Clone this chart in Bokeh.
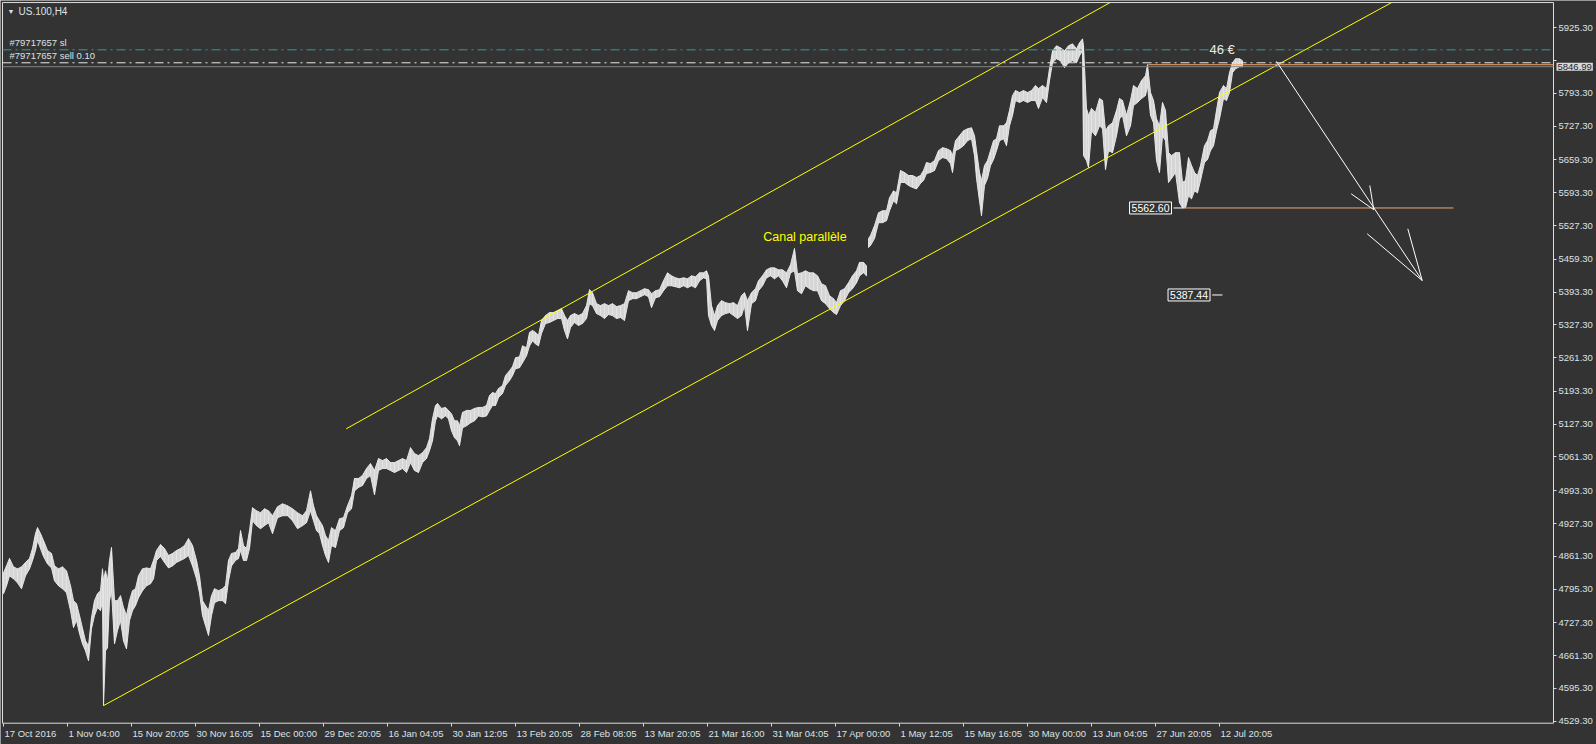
import math
from bokeh.plotting import figure
from bokeh.models import (Range1d, FixedTicker, PrintfTickFormatter, Label,
                          LabelSet, ColumnDataSource)
from bokeh.core.properties import value
from bokeh.embed import file_html
from bokeh.resources import INLINE

NAN = float("nan")

# ---------------- data (bar position, H4 highs / lows) -------------
BAR_X = [3,6,9,13,17,21,25,29,32,35,37,40,43,47,51,54,58,62,66,70,73,76,79,82,85,88,91,94,97,100,
         102,103,105,107,109,111,114,117,120,123,126,129,132,135,138,142,146,150,153,156,
         160,164,168,172,176,180,184,188,192,196,199,202,205,208,211,214,218,222,225,228,
         231,235,238,240,243,246,249,252,256,260,264,268,272,277,282,287,292,297,302,306,
         310,313,316,319,322,325,328,
         331,335,339,343,347,351,354,358,362,366,370,374,378,382,386,390,394,398,402,406,
         410,414,418,422,426,429,432,435,437,441,445,448,451,454,457,459,462,466,470,474,
         478,482,486,489,492,495,498,502,505,509,512,515,519,522,526,529,532,535,538,541,
         545,549,553,557,561,564,567,570,574,578,582,586,589,592,596,600,604,608,612,616,
         620,624,628,632,636,640,644,648,
         651,655,659,663,667,671,675,679,683,687,691,695,699,703,706,708,711,714,717,721,
         725,729,733,737,741,744,747,751,755,758,762,766,770,774,778,782,786,790,794,797,
         801,805,809,813,817,821,825,829,833,836,840,844,848,852,856,859,863,866,
         NAN,
         868,870,874,878,882,886,889,893,896,900,904,908,912,916,920,923,926,930,934,938,
         942,946,950,952,955,959,963,967,971,974,976,979,981,984,987,990,993,996,999,1003,
         1006,1009,1012,1015,1019,1023,1027,1031,1035,1038,1042,1046,1049,1052,1056,1060,1064,1068,1072,1076,
         1079,1082,1083,1086,1088,1091,1095,1099,1102,1105,1108,1112,1116,1119,1122,1126,1130,1133,1137,1141,
         1145,1147,1150,1153,1156,1159,1162,1165,1168,1171,1175,1179,1182,1185,1188,1191,1194,1197,1200,1204,
         1207,1210,1213,1216,1219,1223,1226,1229,1232,1235,1239,1242]

BAR_HIGH = [4828,4842,4857,4840,4836,4840,4849,4857,4877,4907,
            4919,4907,4893,4873,4867,4842,4836,4840,4832,4802,
            4772,4766,4742,4716,4691,4681,4738,4772,4786,4792,
            4836,4812,4832,4812,4853,4879,4772,4772,4782,4758,
            4742,4772,4792,4796,4822,4836,4838,4836,4853,4873,
            4885,4877,4863,4867,4873,4877,4883,4897,4883,4853,
            4822,4772,4762,4752,4782,4796,4792,4796,4802,4853,
            4867,4869,4877,4913,4883,4877,4913,4959,4953,4949,
            4957,4953,4943,4961,4967,4963,4957,4949,4943,4953,
            4993,4963,4943,4933,4923,4903,4893,
            4919,4913,4937,4939,4963,4983,5018,5018,5024,5038,
            5048,5034,5058,5054,5058,5050,5050,5054,5058,5054,
            5080,5068,5064,5070,5080,5098,5138,5165,5169,5159,
            5161,5155,5148,5134,5134,5124,5151,5155,5155,5159,
            5161,5161,5165,5185,5191,5189,5199,5205,5225,5235,
            5243,5261,5263,5285,5281,5312,5316,5312,5306,5336,
            5346,5352,5352,5356,5360,5346,5336,5346,5350,5346,
            5350,5366,5398,5392,5370,5366,5370,5366,5370,5364,
            5366,5370,5396,5392,5392,5396,5400,5398,
            5390,5396,5398,5416,5432,5426,5422,5420,5422,5420,
            5426,5424,5432,5432,5436,5426,5366,5346,5366,5376,
            5372,5370,5372,5366,5386,5392,5376,5392,5400,5416,
            5426,5438,5442,5442,5438,5438,5432,5448,5481,5430,
            5432,5436,5432,5432,5426,5410,5406,5386,5380,5372,
            5396,5400,5412,5426,5436,5453,5453,5446,
            NAN,
            5501,5507,5527,5553,5557,5557,5583,5597,5593,5638,
            5634,5628,5628,5624,5628,5638,5654,5652,5658,5678,
            5684,5682,5678,5668,5698,5708,5718,5722,5724,5708,
            5678,5634,5618,5648,5658,5678,5698,5702,5728,5728,
            5734,5759,5789,5799,5795,5799,5795,5799,5809,5803,
            5809,5803,5843,5879,5889,5885,5879,5889,5893,5883,
            5895,5903,5889,5763,5749,5763,5755,5783,5779,5718,
            5728,5734,5759,5783,5779,5749,5779,5809,5803,5819,
            5829,5851,5795,5779,5742,5728,5775,5759,5674,5668,
            5674,5674,5614,5618,5664,5648,5634,5628,5648,5688,
            5698,5718,5722,5759,5795,5809,5803,5835,5855,5863,
            5863,5859]

BAR_LOW = [4786,4802,4822,4816,4808,4796,4822,4836,4853,4873,
           4893,4877,4861,4846,4838,4812,4802,4796,4788,4752,
           4718,4732,4706,4685,4671,4651,4716,4742,4758,4752,
           4772,4561,4671,4677,4772,4792,4685,4712,4732,4691,
           4675,4732,4752,4762,4778,4792,4802,4806,4816,4853,
           4861,4849,4838,4842,4849,4853,4857,4863,4842,4816,
           4788,4742,4722,4702,4742,4768,4772,4772,4766,4812,
           4842,4853,4857,4873,4853,4853,4877,4933,4923,4917,
           4923,4929,4907,4939,4943,4943,4933,4917,4923,4929,
           4953,4933,4913,4907,4883,4863,4849,
           4883,4879,4913,4919,4949,4957,4993,5000,5004,5018,
           5024,4985,5034,5038,5038,5034,5030,5034,5038,5030,
           5050,5034,5030,5050,5058,5074,5094,5134,5144,5138,
           5144,5138,5114,5100,5094,5084,5120,5124,5130,5134,
           5144,5142,5144,5155,5165,5165,5181,5189,5205,5215,
           5225,5239,5241,5251,5265,5285,5295,5289,5285,5310,
           5330,5332,5336,5340,5340,5316,5299,5322,5332,5326,
           5330,5340,5370,5366,5350,5346,5340,5348,5346,5340,
           5342,5336,5376,5380,5380,5384,5388,5384,
           5362,5382,5384,5396,5406,5406,5404,5402,5406,5402,
           5406,5402,5416,5422,5420,5346,5326,5316,5336,5346,
           5350,5352,5346,5340,5346,5366,5316,5370,5376,5396,
           5406,5422,5426,5420,5426,5416,5402,5432,5436,5396,
           5390,5406,5400,5396,5396,5376,5370,5360,5352,5348,
           5366,5376,5392,5400,5412,5426,5432,5426,
           NAN,
           5483,5487,5501,5533,5533,5537,5557,5577,5571,5614,
           5614,5608,5604,5601,5612,5618,5632,5634,5638,5658,
           5664,5662,5652,5634,5678,5682,5688,5698,5702,5668,
           5622,5577,5547,5608,5622,5648,5660,5678,5698,5702,
           5688,5728,5749,5779,5775,5779,5775,5779,5779,5763,
           5785,5775,5819,5855,5863,5859,5845,5855,5859,5855,
           5869,5879,5668,5658,5644,5718,5708,5728,5722,5640,
           5678,5674,5708,5742,5749,5708,5728,5769,5775,5783,
           5789,5809,5749,5734,5658,5634,5708,5698,5614,5622,
           5634,5573,5563,5563,5587,5581,5597,5593,5618,5654,
           5660,5678,5688,5718,5742,5783,5779,5795,5835,5843,
           5847,5847]

Y_TICKS = [5925.3, 5859.3, 5793.3, 5727.3, 5659.3, 5593.3, 5527.3, 5459.3, 5393.3,
           5327.3, 5261.3, 5193.3, 5127.3, 5061.3, 4993.3, 4927.3, 4861.3, 4795.3,
           4727.3, 4661.3, 4595.3, 4529.3]
HIDDEN_Y_TICK = 5859.3   # its label sits under the current-price tag
X_TICK_BARS = [3, 67, 131, 195, 259, 323, 387, 451, 515, 579, 643, 707, 771, 835,
               899, 963, 1027, 1091, 1155, 1219]
X_TICK_LABELS = ["17 Oct 2016", "1 Nov 04:00", "15 Nov 20:05", "30 Nov 16:05",
                 "15 Dec 00:00", "29 Dec 20:05", "16 Jan 04:05", "30 Jan 12:05",
                 "13 Feb 20:05", "28 Feb 08:05", "13 Mar 20:05", "21 Mar 16:00",
                 "31 Mar 04:05", "17 Apr 00:00", "1 May 12:05", "15 May 16:05",
                 "30 May 00:00", "13 Jun 04:05", "27 Jun 20:05", "12 Jul 20:05"]

# visible window (whole canvas) and the chart box inside it
X_START, X_END = 0, 1596
Y_START, Y_END = 4482.4, 5980.3
BOX_LEFT, BOX_RIGHT = 2, 1553
BOX_BOTTOM, BOX_TOP = 4525.3, 5976.2

SYMBOL = "US.100,H4"
SL_PRICE = 5881.0
SELL_PRICE = 5854.9
BID_PRICE = 5846.99
SL_LABEL = "#79717657 sl"
SELL_LABEL = "#79717657 sell 0.10"
PROFIT_TEXT = "46 €"
PROFIT_X = 1209
CHANNEL_TEXT = "Canal parallèle"
CHANNEL_TEXT_X, CHANNEL_TEXT_P = 762.7, 5505.0

LOWER_CH_X = [103.3, 1300.0]
LOWER_CH_P = [4561.0, 5876.0]
UPPER_CH_X = [345.7, 1066.7]
UPPER_CH_P = [5118.0, 5928.0]

RES_X = [1147.7, 1553.0]
RES_P = 5851.0
SUP_X = [1183.0, 1453.0]
SUP_P = 5562.60
SUP_TAG_X = 1171.0
TARGET_P = 5387.44
TARGET_TAG_X = 1209.5
TARGET_LINE_X = [1211.7, 1222.0]

ARROW_X = [1276.0, 1421.7]
ARROW_P = [5857.5, 5416.6]
HEAD_TIP_X = [1373.3, 1373.3, 1421.7, 1421.7]
HEAD_TIP_P = [5559.0, 5559.0, 5416.6, 5416.6]
HEAD_WING_X = [1350.7, 1369.3, 1366.7, 1407.3]
HEAD_WING_P = [5591.1, 5607.8, 5510.6, 5520.7]

# ---------------- style ----------------
BG = "#333333"
FRAME = "#dcdcdc"
TXT = "#dde1e6"
BAR_COLOR = "#e4e4e4"
YELLOW = "#ffff00"
ORANGE = "#f0a46c"
TEAL = "#2a9e9e"
FONT = "Liberation Sans"

p = figure(width=1596, height=744, output_backend="svg", toolbar_location=None,
           x_range=Range1d(X_START, X_END), y_range=Range1d(Y_START, Y_END),
           y_axis_location="right", x_axis_location="below",
           background_fill_color=BG, border_fill_color=BG,
           min_border_left=0, min_border_top=0, min_border_right=0, min_border_bottom=0)
p.grid.visible = False
p.outline_line_color = None

# right price axis, pinned to the chart box edge
ya = p.yaxis[0]
ya.fixed_location = BOX_RIGHT
ya.ticker = FixedTicker(ticks=Y_TICKS)
ya.formatter = PrintfTickFormatter(format="%.2f")
ya.major_label_overrides = {HIDDEN_Y_TICK: ""}
ya.major_tick_out = 3
ya.major_tick_in = 0
ya.minor_tick_line_color = None
ya.axis_line_color = None
ya.major_tick_line_color = FRAME
ya.major_label_text_color = TXT
ya.major_label_text_font = FONT
ya.major_label_text_font_size = "9.5px"
ya.major_label_standoff = 2

# bottom time axis, pinned to the chart box bottom
xa = p.xaxis[0]
xa.fixed_location = BOX_BOTTOM
xa.ticker = FixedTicker(ticks=X_TICK_BARS)
xa.major_tick_out = 3
xa.major_tick_in = 0
xa.minor_tick_line_color = None
xa.axis_line_color = None
xa.major_tick_line_color = FRAME
xa.major_label_text_color = None
xa.major_label_text_font_size = "9.5px"

# chart box
p.segment(x0=[BOX_LEFT, BOX_LEFT, BOX_LEFT, BOX_RIGHT],
          y0=[BOX_BOTTOM, BOX_TOP, BOX_BOTTOM, BOX_BOTTOM],
          x1=[BOX_RIGHT, BOX_RIGHT, BOX_LEFT, BOX_RIGHT],
          y1=[BOX_BOTTOM, BOX_TOP, BOX_TOP, BOX_TOP],
          line_color=FRAME, line_width=1)

# time labels, left-aligned after their tick as in MT4
xl_src = ColumnDataSource(dict(x=X_TICK_BARS, y=[BOX_BOTTOM] * len(X_TICK_BARS), t=X_TICK_LABELS))
p.add_layout(LabelSet(x="x", y="y", text="t", source=xl_src, x_offset=1, y_offset=-5,
                      text_align="left", text_baseline="top", text_color=TXT,
                      text_font=value(FONT), text_font_size="9.5px"))

# ---------------- price bars ----------------
runs = []
cur = ([], [], [])
for bx, bh, bl in zip(BAR_X, BAR_HIGH, BAR_LOW):
    if isinstance(bx, float) and math.isnan(bx):
        runs.append(cur)
        cur = ([], [], [])
    else:
        cur[0].append(bx); cur[1].append(bh); cur[2].append(bl)
runs.append(cur)
for xs, hs, ls in runs:
    src = ColumnDataSource(dict(x=xs, h=hs, l=ls))
    p.varea(x="x", y1="l", y2="h", source=src, fill_color=BAR_COLOR, fill_alpha=0.92)
    p.line(x="x", y="h", source=src, line_color=BAR_COLOR, line_width=1)
    p.line(x="x", y="l", source=src, line_color=BAR_COLOR, line_width=1)
    p.segment(x0="x", y0="l", x1="x", y1="h", source=src, line_color=BAR_COLOR, line_width=1)

# ---------------- channel (rays, cut at the chart box top) ----------------
for xs, ps in ((LOWER_CH_X, LOWER_CH_P), (UPPER_CH_X, UPPER_CH_P)):
    slope = (ps[1] - ps[0]) / (xs[1] - xs[0])
    x_top = xs[0] + (BOX_TOP - ps[0]) / slope
    p.segment(x0=[xs[0]], y0=[ps[0]], x1=[x_top], y1=[BOX_TOP],
              line_color=YELLOW, line_width=1)

# ---------------- order / price lines ----------------
p.segment(x0=[BOX_LEFT], y0=[BID_PRICE], x1=[BOX_RIGHT], y1=[BID_PRICE],
          line_color="#858585", line_width=1)
p.segment(x0=[BOX_LEFT], y0=[SL_PRICE], x1=[BOX_RIGHT], y1=[SL_PRICE],
          line_color=TEAL, line_width=1, line_dash="9 4 2 4")
p.segment(x0=[BOX_LEFT], y0=[SELL_PRICE], x1=[BOX_RIGHT], y1=[SELL_PRICE],
          line_color="#e8e8e8", line_width=1, line_dash="9 4 2 4")

# ---------------- horizontal levels ----------------
p.segment(x0=[RES_X[0]], y0=[RES_P], x1=[RES_X[1]], y1=[RES_P], line_color=ORANGE, line_width=1)
p.segment(x0=[SUP_X[0]], y0=[SUP_P], x1=[SUP_X[1]], y1=[SUP_P], line_color=ORANGE, line_width=1)
p.segment(x0=[SUP_TAG_X + 2], y0=[SUP_P], x1=[SUP_X[0]], y1=[SUP_P], line_color="#ffffff", line_width=1)
p.segment(x0=[TARGET_LINE_X[0]], y0=[TARGET_P], x1=[TARGET_LINE_X[1]], y1=[TARGET_P],
          line_color="#ffffff", line_width=1)

# ---------------- arrows ----------------
p.segment(x0=[ARROW_X[0]], y0=[ARROW_P[0]], x1=[ARROW_X[1]], y1=[ARROW_P[1]],
          line_color="#ffffff", line_width=1)
p.segment(x0=HEAD_WING_X, y0=HEAD_WING_P, x1=HEAD_TIP_X, y1=HEAD_TIP_P,
          line_color="#ffffff", line_width=1)

def lbl(text, x, y, **kw):
    base = dict(text_font=FONT, text_font_size="9.5px", text_color=TXT)
    base.update(kw)
    p.add_layout(Label(x=x, y=y, text=text, **base))

lbl(SL_LABEL, BOX_LEFT, SL_PRICE, x_offset=7, y_offset=2, text_baseline="bottom")
lbl(SELL_LABEL, BOX_LEFT, SELL_PRICE, x_offset=7, y_offset=2, text_baseline="bottom")
lbl(SYMBOL, BOX_LEFT, BOX_TOP, x_offset=16, y_offset=-3, text_baseline="top", text_font_size="10px")
lbl("\u25bc", BOX_LEFT, BOX_TOP, x_offset=5, y_offset=-5, text_baseline="top", text_font_size="7px")
lbl(PROFIT_TEXT, PROFIT_X, SL_PRICE, text_baseline="middle", text_font_size="13px",
    text_color="#e8e8e8")
lbl(CHANNEL_TEXT, CHANNEL_TEXT_X, CHANNEL_TEXT_P, text_baseline="middle",
    text_font_size="12.5px", text_color=YELLOW)
lbl("%.2f" % SUP_P, SUP_TAG_X, SUP_P, text_align="right", text_baseline="middle",
    text_font_size="10.5px", text_color="#ffffff", background_fill_color=BG,
    border_line_color="#ffffff", padding=2)
lbl("%.2f" % TARGET_P, TARGET_TAG_X, TARGET_P, text_align="right", text_baseline="middle",
    text_font_size="10.5px", text_color="#ffffff", background_fill_color=BG,
    border_line_color="#ffffff", padding=2)
lbl("%.2f" % BID_PRICE, BOX_RIGHT + 3, BID_PRICE, text_baseline="middle",
    text_font_size="9.5px", text_color="#1e1e1e", background_fill_color="#d9d9d9",
    padding=1, level="overlay")

open("out.html", "w").write(file_html(p, INLINE))
